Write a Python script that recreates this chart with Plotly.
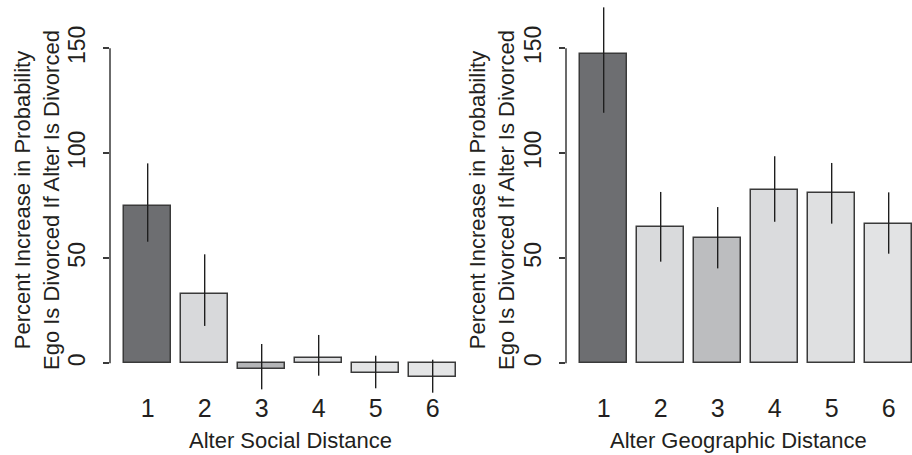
import plotly.graph_objects as go

categories = [1, 2, 3, 4, 5, 6]
tick_labels = ["1", "2", "3", "4", "5", "6"]
social_values = [75.0, 33.0, -2.7, 2.4, -4.5, -6.7]
social_upper = [95.2, 51.9, 9.2, 13.5, 3.6, 1.7]
social_lower = [57.9, 17.8, -12.4, -5.9, -11.9, -14.0]
geo_values = [147.1, 65.1, 59.5, 82.7, 81.1, 66.5]
geo_upper = [169.5, 81.6, 74.4, 98.6, 95.4, 81.4]
geo_lower = [119.3, 48.4, 45.2, 67.4, 66.5, 52.2]
social_colors = ["#6d6e71", "#d8d9db", "#b4b5b7", "#dddee0", "#e3e4e5", "#e4e5e6"]
geo_colors = ["#6d6e71", "#d9dadc", "#bcbdbf", "#dadbdd", "#dfe0e1", "#e2e3e4"]
y_ticks = [0, 50, 100, 150]
y_title = "Percent Increase in Probability<br>Ego Is Divorced If Alter Is Divorced"
x_titles = ["Alter Social Distance", "Alter Geographic Distance"]

W, H = 912, 455
FONT = "Liberation Sans, Arial, sans-serif"
TICKFONT = "Liberation Sans Narrow, Arial Narrow, Liberation Sans, Arial, sans-serif"

fig = go.Figure()


def add_panel(vals, up, lo, colors, xa, ya):
    fig.add_trace(go.Bar(
        x=categories, y=vals, width=0.83,
        marker=dict(color=colors, line=dict(color="#3a3a3a", width=1.5)),
        error_y=dict(type="data", symmetric=False,
                     array=[u - v for u, v in zip(up, vals)],
                     arrayminus=[v - l for v, l in zip(vals, lo)],
                     color="#1e1e1e", thickness=1.4, width=0),
        xaxis=xa, yaxis=ya, showlegend=False,
    ))


add_panel(social_values, social_upper, social_lower, social_colors, "x", "y")
add_panel(geo_values, geo_upper, geo_lower, geo_colors, "x2", "y2")

px_per_unit = 57.0
x0 = 0.339
ybot_px, y0_px, yscale = 395.0, 363.3, 2.1
yrange = [(y0_px - ybot_px) / yscale, y0_px / yscale]
ydom = [1 - ybot_px / H, 1]

xcommon = dict(tickmode="array", tickvals=categories, ticktext=tick_labels,
               showline=False, showgrid=False, zeroline=False, ticks="",
               tickfont=dict(family=FONT, size=25, color="#231f20"),
               ticklabelstandoff=-4, fixedrange=True)
ycommon = dict(tickmode="array", tickvals=y_ticks, range=yrange, domain=ydom,
               showline=False, showgrid=False, zeroline=False,
               ticks="outside", ticklen=6, tickwidth=1.5, tickcolor="#3a3a3a",
               tickangle=-90, tickfont=dict(family=TICKFONT, size=23, color="#231f20"),
               ticklabelstandoff=9)

fig.update_layout(
    width=W, height=H, margin=dict(l=0, r=0, t=0, b=0),
    paper_bgcolor="white", plot_bgcolor="white",
    bargap=0,
    xaxis=dict(domain=[110 / W, 458 / W], range=[x0, x0 + 348 / px_per_unit], anchor="y", **xcommon),
    xaxis2=dict(domain=[566 / W, 1], range=[x0, x0 + 346 / px_per_unit], anchor="y2", **xcommon),
    yaxis=dict(anchor="x", **ycommon),
    yaxis2=dict(anchor="x2", **ycommon),
)

for xr, yr in (("x domain", "y"), ("x2 domain", "y2")):
    fig.add_shape(type="line", xref=xr, yref=yr, x0=0, x1=0, y0=0, y1=150,
                  line=dict(color="#3a3a3a", width=1.5))

for cx in (37, 492):
    fig.add_annotation(text=y_title, xref="paper", yref="paper",
                       x=cx / W, y=1 - 200 / H, xanchor="center", yanchor="middle",
                       textangle=-90, showarrow=False,
                       font=dict(family=FONT, size=22, color="#231f20"))

for cx, t in zip((290, 738.5), x_titles):
    fig.add_annotation(text=t, xref="paper", yref="paper",
                       x=cx / W, y=1 - 440 / H, xanchor="center", yanchor="middle",
                       showarrow=False,
                       font=dict(family=FONT, size=22, color="#231f20"))

fig.write_html("out.html")
